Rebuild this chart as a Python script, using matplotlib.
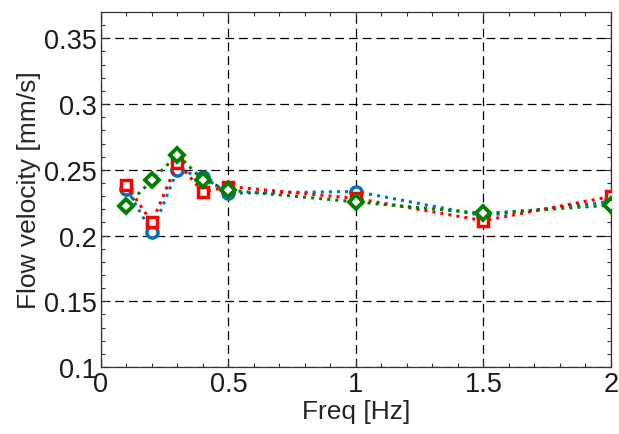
import matplotlib
matplotlib.use("Agg")
import matplotlib.pyplot as plt
from matplotlib.ticker import MultipleLocator

plt.rcParams['font.family'] = ['Liberation Sans', 'DejaVu Sans']

freq = [0.1, 0.2, 0.3, 0.4, 0.5, 1.0, 1.5, 2.0]
blue_vals = [0.2357, 0.2024, 0.2499, 0.2446, 0.2322, 0.2335, 0.2150, 0.2260]
red_vals = [0.2383, 0.2100, 0.2554, 0.2332, 0.2373, 0.2282, 0.2113, 0.2297]
green_vals = [0.2226, 0.2420, 0.2615, 0.2423, 0.2345, 0.2256, 0.2168, 0.2231]
xticks = [0, 0.5, 1, 1.5, 2]
yticks = [0.1, 0.15, 0.2, 0.25, 0.3, 0.35]

fig = plt.figure(figsize=(6.19, 4.35), dpi=100)
ax = fig.add_axes([0.163, 0.154, 0.824, 0.816])

ax.plot(freq, blue_vals, linestyle=':', color='#0072BD', lw=2.2, marker='o',
        ms=8, mfc='white', mec='#0072BD', mew=2.5, zorder=3)
ax.plot(freq, red_vals, linestyle=':', color='#FF0000', lw=2.2, marker='s',
        ms=7.5, mfc='white', mec='#FF0000', mew=2.5, zorder=4)
ax.plot(freq, green_vals, linestyle=':', color='#008000', lw=2.2, marker='D',
        ms=7, mfc='white', mec='#008000', mew=2.8, zorder=5)

ax.set_xlim(0, 2)
ax.set_ylim(0.1, 0.37)
ax.set_xticks(xticks)
ax.set_xticklabels(['0', '0.5', '1', '1.5', '2'])
ax.set_yticks(yticks)
ax.set_yticklabels(['0.1', '0.15', '0.2', '0.25', '0.3', '0.35'])
ax.xaxis.set_minor_locator(MultipleLocator(0.1))
ax.yaxis.set_minor_locator(MultipleLocator(0.01))
ax.tick_params(which='both', direction='in', top=True, right=True, labelsize=19.5,
               width=0.8, color='#333333', pad=3)
ax.tick_params(which='major', length=5)
ax.tick_params(which='minor', length=3)

ax.grid(True, which='major', color='black', linestyle=(0, (7, 4)), linewidth=0.9)
for s in ax.spines.values():
    s.set_color('#333333')
    s.set_linewidth(0.9)

ax.set_xlabel('Freq [Hz]', fontsize=19, color='#262626', labelpad=1)
ax.set_ylabel('Flow velocity [mm/s]', fontsize=19, color='#262626', labelpad=2)
for lab in ax.get_xticklabels() + ax.get_yticklabels():
    lab.set_color('#1a1a1a')

fig.savefig('out.png', dpi=100)
